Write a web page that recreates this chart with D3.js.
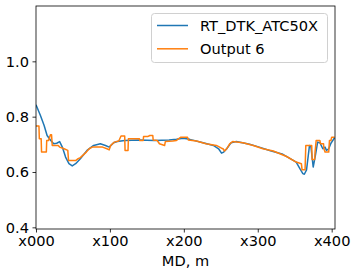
<!DOCTYPE html>
<html>
<head>
<meta charset="utf-8">
<script src="https://cdn.jsdelivr.net/npm/d3@7"></script>
<style>
  body { margin: 0; background: #fff; }
  svg text { font-family: "DejaVu Sans", sans-serif; }
</style>
</head>
<body>
<div id="chart"></div>
<script>
// series: [MD offset, value]
var seriesNames = ["RT_DTK_ATC50X", "Output 6"];
var seriesColors = ["#1f77b4", "#ff7f0e"];

var rtDtk = [[0,0.843],[6,0.804],[11,0.768],[15,0.732],[20,0.714],[24,0.702],[28,0.704],[32,0.71],[35.6,0.69],[40,0.654],[44.6,0.63],[49,0.622],[53.6,0.63],[60,0.648],[69,0.678],[78,0.696],[87,0.702],[94,0.696],[99,0.69],[105,0.706],[110,0.71],[120,0.714],[140,0.716],[160,0.714],[180,0.716],[190,0.718],[199,0.722],[208,0.718],[226,0.706],[240,0.696],[247,0.684],[251,0.668],[254,0.672],[258,0.684],[264,0.706],[271,0.71],[289,0.70],[302,0.69],[316,0.678],[334,0.664],[348,0.642],[352,0.636],[357,0.612],[361,0.594],[363,0.592],[366,0.608],[370,0.696],[372,0.69],[375,0.618],[378,0.66],[381,0.708],[384,0.706],[388,0.684],[391,0.69],[393,0.678],[396,0.684],[399,0.704],[404,0.724]];

var output6 = [[0,0.766],[4,0.766],[4.5,0.72],[7,0.72],[7.5,0.672],[14,0.672],[14.5,0.714],[17,0.714],[19.5,0.735],[21,0.735],[22,0.696],[30,0.696],[32,0.69],[38,0.684],[43,0.678],[44,0.642],[54,0.642],[57,0.648],[60,0.652],[64,0.662],[68,0.672],[72,0.684],[76,0.69],[83,0.69],[90,0.69],[96,0.684],[99,0.68],[101,0.696],[106,0.708],[112,0.712],[115,0.73],[120,0.73],[120.5,0.678],[124.5,0.678],[125,0.72],[140,0.72],[140.5,0.714],[145,0.714],[145.5,0.728],[151,0.728],[154,0.732],[158,0.732],[158.5,0.716],[164,0.714],[167,0.702],[174,0.696],[175,0.71],[185,0.712],[190,0.714],[196,0.726],[205,0.726],[206,0.716],[217,0.712],[230,0.702],[244,0.696],[251,0.686],[253,0.684],[255,0.676],[258,0.684],[262,0.702],[266,0.71],[280,0.706],[294,0.696],[307,0.684],[321,0.676],[339,0.656],[352,0.636],[359,0.63],[360,0.608],[364,0.608],[365,0.696],[373,0.696],[373.5,0.645],[377,0.645],[377.5,0.672],[379,0.714],[384,0.714],[385,0.702],[389,0.702],[389.5,0.684],[391,0.672],[396,0.672],[397,0.714],[399,0.714],[400,0.726],[404,0.726]];

var xTicks = [0, 100, 200, 300, 400];
var xTickLabels = ["x000", "x100", "x200", "x300", "x400"];
var yTicks = [0.4, 0.6, 0.8, 1.0];

var fs = 14.6;
var W = 357, H = 274;
var m = {left: 36, right: 22, top: 6, bottom: 45};

var svg = d3.select("#chart").append("svg")
  .attr("width", W)
  .attr("height", H);

var x = d3.scaleLinear().domain([0, 404.5]).range([m.left, W - m.right]);
var y = d3.scaleLinear().domain([0.394, 1.2]).range([H - m.bottom, m.top]);

var line = d3.line()
  .x(function(d){ return x(d[0]); })
  .y(function(d){ return y(d[1]); });

var clipID = "clip_" + new Date().getTime();
svg.append("defs").append("clipPath").attr("id", clipID)
  .append("rect")
  .attr("x", m.left).attr("y", m.top)
  .attr("width", W - m.left - m.right)
  .attr("height", H - m.top - m.bottom);

var plot = svg.append("g").attr("clip-path", "url(#" + clipID + ")");
[rtDtk, output6].forEach(function(s, i){
  plot.append("path")
    .attr("d", line(s))
    .attr("fill", "none")
    .attr("stroke", seriesColors[i])
    .attr("stroke-width", 1.5)
    .attr("stroke-linejoin", "round");
});

// axes
var xAxis = d3.axisBottom(x).tickValues(xTicks)
  .tickFormat(function(d, i){ return xTickLabels[i]; })
  .tickSize(3.5).tickPadding(3.5);
var yAxis = d3.axisLeft(y).tickValues(yTicks)
  .tickFormat(d3.format(".1f"))
  .tickSize(3.5).tickPadding(3.5);

var gx = svg.append("g").attr("transform", "translate(0," + (H - m.bottom) + ")").call(xAxis);
var gy = svg.append("g").attr("transform", "translate(" + m.left + ",0)").call(yAxis);
[gx, gy].forEach(function(g){
  g.select(".domain").remove();
  g.selectAll("line").attr("stroke", "#000").attr("stroke-width", 0.8);
  g.selectAll("text").attr("font-size", fs).attr("fill", "#000")
    .attr("font-family", "DejaVu Sans, sans-serif");
});

// frame
svg.append("rect")
  .attr("x", m.left).attr("y", m.top)
  .attr("width", W - m.left - m.right)
  .attr("height", H - m.top - m.bottom)
  .attr("fill", "none")
  .attr("stroke", "#000")
  .attr("stroke-width", 0.8);

svg.append("text")
  .attr("x", (m.left + W - m.right) / 2)
  .attr("y", 266)
  .attr("text-anchor", "middle")
  .attr("font-size", fs)
  .text("MD, m");

// legend
var lg = svg.append("g");
lg.append("rect")
  .attr("x", 151.5).attr("y", 13.5)
  .attr("width", 176).attr("height", 49)
  .attr("rx", 3)
  .attr("fill", "#fff").attr("fill-opacity", 0.8)
  .attr("stroke", "#d0d0d0").attr("stroke-width", 1);
seriesNames.forEach(function(n, i){
  var yy = 25.5 + i * 23.3;
  lg.append("line")
    .attr("x1", 157).attr("x2", 188)
    .attr("y1", yy).attr("y2", yy)
    .attr("stroke", seriesColors[i]).attr("stroke-width", 1.5);
  lg.append("text")
    .attr("x", 200).attr("y", yy + 5.2)
    .attr("font-size", fs)
    .text(n);
});
</script>
</body>
</html>
